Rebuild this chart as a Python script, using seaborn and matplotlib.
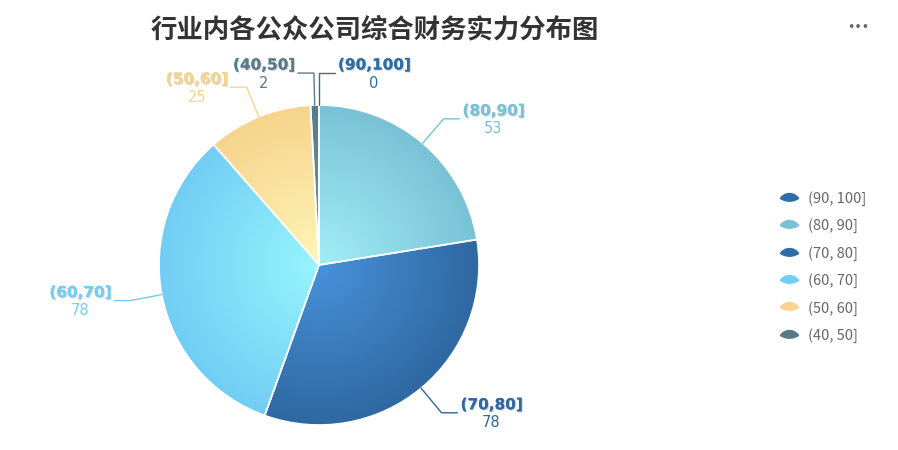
import matplotlib.pyplot as plt
import matplotlib.patheffects as pe
from matplotlib.colors import LinearSegmentedColormap
from matplotlib.lines import Line2D
from matplotlib.path import Path
import numpy as np
import seaborn as sns

# ========== Dữ liệu ==========
categories = ['(90,100]', '(80,90]', '(70,80]', '(60,70]', '(50,60]', '(40,50]']
legend_labels = ['(90, 100]', '(80, 90]', '(70, 80]', '(60, 70]', '(50, 60]', '(40, 50]']
counts = [0, 53, 78, 78, 25, 2]
title = '行业内各公众公司综合财务实力分布图'

base_colors = ['#2e6ca6', '#79c2d6', '#2f68a2', '#72cdf4', '#f6d48c', '#587b8b']
light_colors = ['#4a90d6', '#a2eef7', '#4892da', '#97f5fd', '#fff5b8', '#7097a8']

sns.set_theme(style='white')
plt.rcParams['font.family'] = ['Noto Sans CJK SC', 'DejaVu Sans']

fig = plt.figure(figsize=(8.98, 4.5), dpi=100)
ax = fig.add_axes([0, 0, 1, 1])

# tâm và bán kính theo pixel
CX, CY, R = 319, 185, 160
total = sum(counts)

wedges, _ = ax.pie(counts, colors=sns.color_palette(base_colors), startangle=90,
                   counterclock=False, center=(CX, CY), radius=R,
                   wedgeprops=dict(edgecolor='white', linewidth=1.2, zorder=3))

# ========== Gradient tỏa tròn cho từng miếng ==========
n = 400
xs = np.linspace(-1, 1, n)
xx, yy = np.meshgrid(xs, xs)
rr = np.clip(np.hypot(xx, yy), 0, 1)
for w, c0, c1 in zip(wedges, light_colors, base_colors):
    cmap = LinearSegmentedColormap.from_list('g', [c0, c1])
    im = ax.imshow(rr, cmap=cmap, vmin=0, vmax=1, origin='lower',
                   extent=(CX - R, CX + R, CY - R, CY + R), zorder=2,
                   interpolation='bilinear')
    im.set_clip_path(w)
    w.set_facecolor('none')

ax.set_xlim(0, 898)
ax.set_ylim(0, 450)
ax.axis('off')

# ========== Nhãn có đường dẫn ==========
fig.canvas.draw()
renderer = fig.canvas.get_renderer()
cum = np.cumsum([0] + counts)
shadow = [pe.withSimplePatchShadow(offset=(0.8, -0.8), shadow_rgbFace='#888888', alpha=0.35), pe.Normal()]
for i, (cat, val, col) in enumerate(zip(categories, counts, base_colors)):
    mid = (cum[i] + cum[i + 1]) / 2
    th = np.deg2rad(90 - mid / total * 360)
    p0 = (CX + R * np.cos(th), CY + R * np.sin(th))
    p1 = (CX + (R + 32) * np.cos(th), CY + (R + 32) * np.sin(th))
    side = 1 if np.cos(th) >= -1e-9 else -1
    p2 = (p1[0] + side * 16, p1[1])
    ax.plot([p0[0], p1[0], p2[0]], [p0[1], p1[1], p2[1]], color=col, lw=1, zorder=4)
    t = ax.text(p2[0] + side * 3, p2[1] + 8, cat, ha='left' if side > 0 else 'right',
                va='center', fontsize=11, fontweight='bold', color=col,
                family='DejaVu Sans', path_effects=shadow, zorder=5)
    bb = t.get_window_extent(renderer).transformed(ax.transData.inverted())
    ax.text((bb.x0 + bb.x1) / 2, p2[1] - 10, str(val), ha='center', va='center',
            fontsize=10.5, color=col, family='DejaVu Sans', zorder=5)

# ========== Tiêu đề và legend ==========
fig.text(375 / 898, 1 - 30 / 450, title, ha='center', va='center', fontsize=19,
         fontweight='bold', color='#333333')
fig.text(858 / 898, 1 - 27 / 450, '•••', ha='center', va='center', fontsize=9,
         color='#666666', family='DejaVu Sans')

xl = np.linspace(-1, 1, 30)
top = np.column_stack([xl, 0.55 * (1 - xl ** 2) ** 0.8])
bot = np.column_stack([xl[::-1], -0.3 * (1 - xl[::-1] ** 2)])
leaf = Path(np.vstack([top, bot, top[:1]]), closed=True)

handles = [Line2D([], [], marker=leaf, linestyle='none', color=c, markersize=13)
           for c in ['#2f6da6', '#79c2d6', '#2f6da6', '#6fcff7', '#f7d58f', '#577988']]
ax.legend(handles, legend_labels, loc='upper left', bbox_to_anchor=(766 / 898, 1 - 178 / 450),
          bbox_transform=fig.transFigure, frameon=False, fontsize=10.5, labelcolor='#666666',
          labelspacing=0.86, handletextpad=0.6, handlelength=1.4)

plt.savefig('out.png', dpi=100)
plt.close()
